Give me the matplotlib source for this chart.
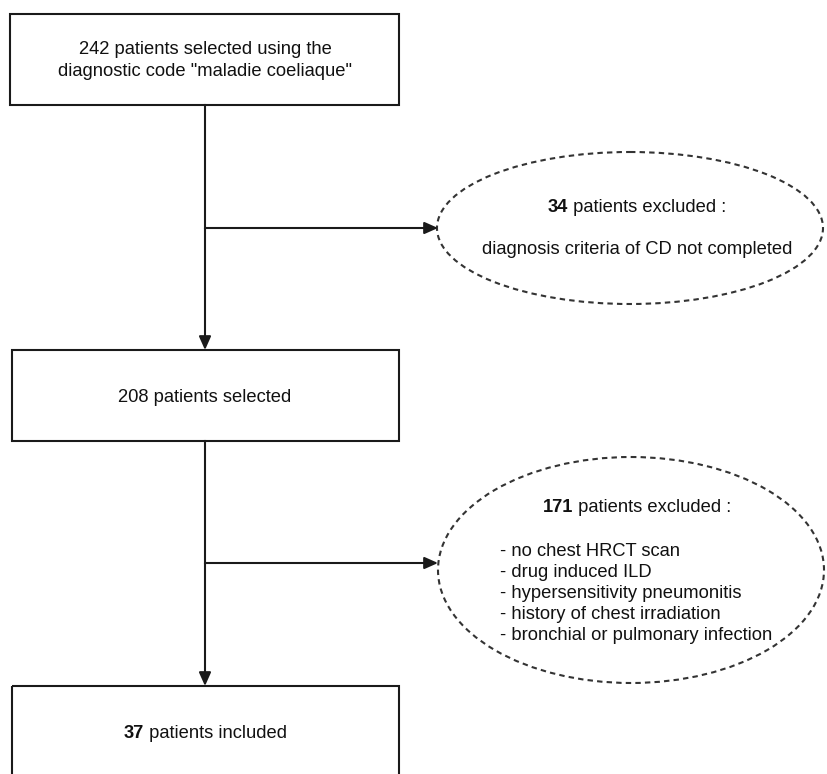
import matplotlib
matplotlib.use("Agg")
import matplotlib.pyplot as plt
from matplotlib.patches import Rectangle, Ellipse

plt.rcParams['font.family'] = ['Liberation Sans', 'DejaVu Sans']

# ---- data ----
n_initial = 242
n_excluded_1 = 34
n_selected = 208
n_excluded_2 = 171
n_included = 37
initial_text = ['{} patients selected using the'.format(n_initial),
                'diagnostic code "maladie coeliaque"']
excl1_reason = 'diagnosis criteria of CD not completed'
excl2_reasons = ['no chest HRCT scan', 'drug induced ILD',
                 'hypersensitivity pneumonitis', 'history of chest irradiation',
                 'bronchial or pulmonary infection']

W, H = 827, 774
fig = plt.figure(figsize=(W / 100, H / 100), dpi=100)
ax = fig.add_axes([0, 0, 1, 1])
ax.set_xlim(0, W)
ax.set_ylim(H, 0)
ax.axis('off')

FS = 13.2
LC = '#1a1a1a'
LW = 1.5

def box(x0, y0, x1, y1):
    ax.add_patch(Rectangle((x0, y0), x1 - x0, y1 - y0, fill=False,
                           edgecolor=LC, linewidth=LW, zorder=2))

def ell(cx, cy, w, h):
    ax.add_patch(Ellipse((cx, cy), w, h, fill=False, edgecolor='#333333',
                         linewidth=1.5, linestyle=(0, (2.6, 2.0)), zorder=2))

def arrow(x0, y0, x1, y1):
    ax.annotate('', xy=(x1, y1), xytext=(x0, y0),
                arrowprops=dict(arrowstyle='-|>,head_length=0.45,head_width=0.2',
                                color=LC, lw=LW,
                                mutation_scale=18, shrinkA=0, shrinkB=0),
                zorder=3)

renderer = fig.canvas.get_renderer()

def mixed(cx, cy, bold, rest):
    t1 = ax.text(0, cy, bold, fontsize=FS, fontweight='bold', ha='left',
                 va='center', color='#111111')
    t2 = ax.text(0, cy, rest, fontsize=FS, ha='left', va='center',
                 color='#111111')
    inv = ax.transData.inverted()
    def wdata(t):
        bb = t.get_window_extent(renderer)
        p = inv.transform([[bb.x0, bb.y0], [bb.x1, bb.y0]])
        return p[1][0] - p[0][0]
    w1, w2 = wdata(t1), wdata(t2)
    x0 = cx - (w1 + w2) / 2
    t1.set_x(x0)
    t2.set_x(x0 + w1)

# boxes
box(10, 14, 399, 105)
box(12, 350, 399, 441)
box(12, 686, 399, 800)

# ellipses
ell(630, 228, 386, 152)
ell(631, 570, 386, 226)

# connectors
xc = 205
ax.plot([xc, xc], [105, 228], color=LC, lw=LW, zorder=1)
arrow(xc, 228, xc, 350)
arrow(xc, 228, 438, 228)
ax.plot([xc, xc], [441, 563], color=LC, lw=LW, zorder=1)
arrow(xc, 563, xc, 686)
arrow(xc, 563, 438, 563)

# texts
ax.text(xc, 50, initial_text[0], fontsize=FS, ha='center', va='center', color='#111111')
ax.text(xc, 72, initial_text[1], fontsize=FS, ha='center', va='center', color='#111111')
ax.text(xc, 397, '{} patients selected'.format(n_selected), fontsize=FS,
        ha='center', va='center', color='#111111')
mixed(xc, 733, str(n_included), ' patients included')

mixed(637, 208, str(n_excluded_1), ' patients excluded :')
ax.text(637, 250, excl1_reason, fontsize=FS, ha='center', va='center', color='#111111')

mixed(637, 508, str(n_excluded_2), ' patients excluded :')
for i, r in enumerate(excl2_reasons):
    ax.text(500, 552 + i * 20.8, '- ' + r, fontsize=FS, ha='left', va='center',
            color='#111111')

fig.savefig('out.png', dpi=100, facecolor='white')
